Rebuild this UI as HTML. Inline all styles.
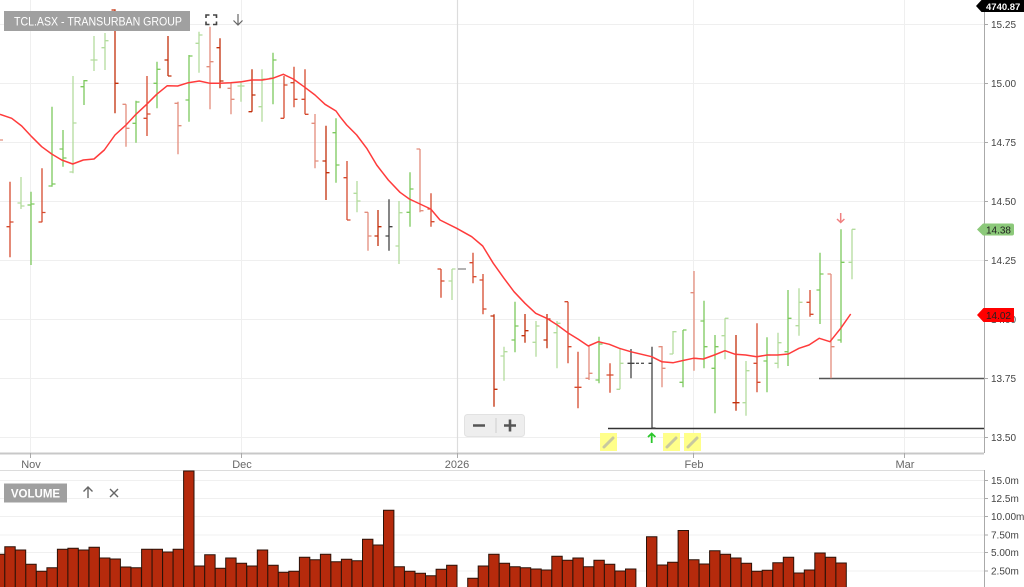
<!DOCTYPE html>
<html><head><meta charset="utf-8"><style>
html,body{margin:0;padding:0;background:#fff;}
svg{display:block;font-family:"Liberation Sans",Arial,sans-serif;}
</style></head><body>
<svg width="1024" height="587" viewBox="0 0 1024 587" xmlns="http://www.w3.org/2000/svg">
<rect x="0" y="0" width="1024" height="587" fill="#fff"/>
<!-- price grid -->
<g stroke="#efefef" stroke-width="1">
<path d="M0 24.5H984M0 83.5H984M0 142.5H984M0 201.5H984M0 260.5H984M0 319.5H984M0 378.5H984M0 437.5H984"/>
<path d="M30.5 0V453M241.5 0V453M693.5 0V453M904.5 0V453"/>
</g>
<path d="M457.5 0V453" stroke="#dcdcdc" stroke-width="1.2"/>
<!-- axes -->
<path d="M0 453.5H984" stroke="#c8c8c8" stroke-width="2"/>
<path d="M984.5 0V453M984.5 470V587" stroke="#aaa" stroke-width="1"/>
<g stroke="#aaa" stroke-width="1"><path d="M984 24.5H988M984 83.5H988M984 142.5H988M984 201.5H988M984 260.5H988M984 319.5H988M984 378.5H988M984 437.5H988"/>
<path d="M30.5 453V458M241.5 453V458M457.5 453V458M693.5 453V458M904.5 453V458"/></g>
<g font-size="10" fill="#444">
<text x="991" y="28">15.25</text><text x="991" y="87">15.00</text><text x="991" y="146">14.75</text>
<text x="991" y="205">14.50</text><text x="991" y="264">14.25</text><text x="991" y="323">14.00</text>
<text x="991" y="382">13.75</text><text x="991" y="441">13.50</text>
</g>
<g font-size="11" fill="#666" text-anchor="middle">
<text x="31" y="468">Nov</text><text x="242" y="468">Dec</text><text x="457" y="468">2026</text>
<text x="694" y="468">Feb</text><text x="905" y="468">Mar</text>
</g>
<!-- support lines -->
<path d="M608 428.5H984" stroke="#333" stroke-width="1.5"/>
<path d="M819 378.5H984" stroke="#555" stroke-width="1.5"/>
<!-- OHLC bars -->
<g fill="none" stroke-width="1.3">
<path stroke="#7dc95e" d="M31 191.7V265M27.5 205H31M31 204H34.5M52 106.7V186.7M48.5 186H52M52 184H55.5M63 130V166.7M59.5 149H63M63 158H66.5M84 80V105M80.5 86.7H84M84 80.7H87.5M136 100.7V142.7M132.5 123.3H136M136 102H139.5M157 61.7V108.3M153.5 83.3H157M157 69.3H160.5M189 55V121.7M185.5 100H189M189 56H192.5M273 52.7V104.3M269.5 78.3H273M273 60H276.5M336 118.3V182.7M332.5 132.7H336M336 165H339.5M410 172.3V226.7M406.5 212.3H410M410 189H413.5M515 301.7V352.3M511.5 340H515M515 326H518.5M599 336.7V383.3M595.5 380H599M599 344H602.5M683 330V387.3M679.5 382.3H683M683 330H686.5M704 300.7V368.3M700.5 321H704M704 346.7H707.5M715 335V413.3M711.5 368.3H715M715 346.7H718.5M767 337.3V392.3M763.5 361H767M767 355H770.5M788 290V366M784.5 351.7H788M788 318.3H791.5M820 252.7V324M816.5 290H820M820 274H823.5M841 229.3V342.7M837.5 340H841M841 262.3H844.5"/>
<path stroke="#b3dc9d" d="M21 177V209M17.5 203H21M21 206H24.5M73 76V173.3M69.5 172H73M73 123H76.5M94 36V71M90.5 60H94M94 60H97.5M105 33V70M101.5 47.7H105M105 40.7H108.5M199 31.7V72.7M195.5 43.3H199M199 35H202.5M241 81.7V101.7M237.5 86H241M241 86H244.5M262 69.3V121.7M258.5 106.7H262M262 79H265.5M357 181V212.3M353.5 193.3H357M357 201H360.5M399 201V264M395.5 246H399M399 212.7H402.5M452 269V300M448.5 281H452M452 269H455.5M504 346.7V380.7M500.5 356H504M504 351.7H507.5M536 321V356.7M532.5 342.3H536M536 326H539.5M557 321V368.3M553.5 332.7H557M557 323.3H560.5M620 349V389.3M616.5 389.3H620M620 363.3H623.5M673 331V354M669.5 354H673M673 331.7H676.5M725 318.3V359.3M721.5 335.7H725M725 318.3H728.5M746 361V415.7M742.5 402.7H746M746 370.7H749.5M778 332.7V368.3M774.5 363.3H778M778 342.7H781.5M799 288.3V335.7M795.5 325.7H799M799 302.3H802.5M852 229.3V279.3M848.5 262.3H852M852 229.3H855.5"/>
<path stroke="#d64a2e" d="M10 181.7V257.3M6.5 226.7H10M10 222H13.5M42 168.3V222.3M38.5 222H42M42 212.5H45.5M147 76V136M143.5 118.3H147M147 114H150.5M284 76V118.3M280.5 118.3H284M284 85H287.5M294 66.7V107.3M290.5 82.7H294M294 99.3H297.5M305 69.3V114.3M301.5 99.3H305M305 114.3H308.5M347 161V220M343.5 177.7H347M347 220H350.5M431 193.3V226.7M427.5 209H431M431 221.7H434.5M441 269V297.7M437.5 269H441M441 281H444.5M473 252.7V283.3M469.5 262.7H473M473 276.7H476.5M483 274V314.3M479.5 280H483M483 309H486.5M568 301.7V363.3M564.5 301.7H568M568 346.7H571.5M578 351.7V408.3M574.5 387.3H578M578 387.3H581.5M610 363.3V392.7M606.5 375H610M610 375H613.5M757 323.3V392.3M753.5 363.3H757M757 382.3H760.5M810 290V316.7M806.5 302.3H810M810 314.3H813.5"/>
<path stroke="#e38d7c" d="M0 140H3M126 104.3V146.7M122.5 104.3H126M126 128.3H129.5M178 101.7V154.3M174.5 103.3H178M178 125.7H181.5M210 26.7V109.3M206.5 66.7H210M210 61.7H213.5M231 83.3V114.3M227.5 88.3H231M231 99.3H234.5M315 114V168.3M311.5 123.3H315M315 161H318.5M368 212.3V250.7M364.5 212.3H368M368 236H371.5M420 149V212.3M416.5 149H420M420 210.7H423.5M589 345V380M585.5 378.3H589M589 373.3H592.5M662 346V387.3M658.5 346.7H662M662 368.3H665.5M694 271V370.7M690.5 292.7H694M694 358.3H697.5M831 274V378.3M827.5 274H831M831 346.7H834.5"/>
<path stroke="#c2300c" d="M115 9.3V113.3M111.5 10H115M115 83.3H118.5M168 36V76M164.5 60H168M168 76H171.5M220 38.3V88.3M216.5 47.7H220M220 81H223.5M252 69.3V111.7M248.5 111.7H252M252 95H255.5M326 125.7V200M322.5 161H326M326 172.7H329.5M378 210V246M374.5 236H378M378 226.7H381.5M494 314.3V406.7M490.5 316H494M494 389.3H497.5M525 314V342.7M521.5 335.7H525M525 330.7H528.5M547 314V348.3M543.5 340H547M547 319H550.5M736 335V410.7M732.5 402.7H736M736 402.7H739.5"/>
<path stroke="#444" d="M389 199.3V250.7M385.5 236H389M389 226.7H392.5M631 349V378.3M627.5 363.3H631M631 363.3H634.5M652 346.7V428.3M648.5 363.3H652M652 428H655.5"/>
<path stroke="#888" d="M458 269H466"/>
<path stroke="#555" stroke-dasharray="3 2" d="M636 363.3H646"/>
</g>
<!-- moving average -->
<polyline fill="none" stroke="#ff3b3b" stroke-width="1.5" stroke-linejoin="round" points="0,114.3 11.7,118.3 21.7,126 31.7,136.7 41.7,146.7 51.7,154 61.7,160 72.7,164 83.3,160 94,159 104.3,150 115,135 126,125 136,114.3 146.7,104.3 156.7,94.3 167.3,85.7 177.7,86 188.3,82.7 199.3,81 210,83.3 220,83.3 230.7,82.7 241.7,81.7 251.7,80 262.3,80 272.7,78.3 283.3,74.3 293.3,79 304,86.7 315,95 325,104.3 336,111 340,116.7 346.7,125 356.7,135 366.7,148.3 376.7,165 388.3,180 400,192.3 409.3,199 420,204 430.7,209 440,220 456.7,228.3 471.7,236.7 482.7,246 493.3,263.3 504,278.3 514,291.7 525,303.3 535.7,313.3 546.7,318.3 557.3,325 567.7,332.7 578.3,339.3 588.3,346 598.3,341.7 609.3,344.3 619.3,348.3 630.7,351.7 651.7,356.7 661.7,361.7 673.3,362.7 683,360.5 693.3,358.3 703.3,359 714.3,355 725,350.7 735.3,354.3 745.7,355 756.7,356.7 767.3,355 777.7,355 788.3,354 799,348.3 809,345 819.3,338.3 830,341.7 840.7,328.3 850.7,314"/>
<!-- markers -->
<g stroke="#f08080" stroke-width="1.5" fill="none"><path d="M840.7 213V222.5M837 219L840.7 222.5L844.4 219"/></g>
<g stroke="#2bc72b" stroke-width="1.8" fill="none"><path d="M651.7 443V433.5M648 437L651.7 433.5L655.4 437"/></g>
<!-- pencil boxes -->
<g>
<rect x="600" y="433" width="17" height="18" fill="#ffff8a"/>
<rect x="663" y="433" width="17" height="18" fill="#ffff8a"/>
<rect x="684" y="433" width="17" height="18" fill="#ffff8a"/>
<g stroke="#c8c8a0" stroke-width="3" stroke-linecap="round">
<path d="M604 447L613 438M667 447L676 438M688 447L697 438"/>
</g>
</g>
<!-- zoom control -->
<rect x="464.5" y="414.5" width="60" height="22" rx="3" fill="#eeeeee" stroke="#e2e2e2"/>
<path d="M496 418V433" stroke="#cfcfcf" stroke-width="1"/>
<path d="M473 425.5H485M504 425.5H516M510 419.5V431.5" stroke="#555" stroke-width="2.6"/>
<!-- title -->
<rect x="4" y="11" width="186" height="20" fill="#a0a0a0"/>
<text x="14" y="25.5" font-size="12" fill="#fff" textLength="168" lengthAdjust="spacingAndGlyphs">TCL.ASX - TRANSURBAN GROUP</text>
<g stroke="#444" stroke-width="1.6" fill="none">
<path d="M206 18V15H209.5M213 15H216.5V18M216.5 21.5V24.5H213M209.5 24.5H206V21.5"/>
</g>
<g stroke="#666" stroke-width="1.2" fill="none"><path d="M238 14V25M233.5 20.5L238 25L242.5 20.5"/></g>
<!-- right labels -->
<path d="M976 6L981.5 0H1024V12H981.5Z" fill="#000"/>
<text x="986" y="9.8" font-size="9.5" font-weight="bold" fill="#fff">4740.87</text>
<path d="M977 229.5L983 223.5H1012Q1014 223.5 1014 225.5V233.5Q1014 235.5 1012 235.5H983Z" fill="#8cc97a"/>
<text x="1011" y="233.5" font-size="10" fill="#222" text-anchor="end">14.38</text>
<path d="M977 315L983.5 308H1014V322H983.5Z" fill="#ff0000"/>
<text x="1011" y="319" font-size="10" fill="#222" text-anchor="end">14.02</text>
<!-- volume panel -->
<path d="M0 470.5H984" stroke="#dcdcdc" stroke-width="1"/>
<g stroke="#f0f0f0" stroke-width="1"><path d="M0 480.5H984M0 498.5H984M0 516.5H984M0 535H984M0 552.5H984M0 571H984"/></g>
<g stroke="#aaa"><path d="M984 480.5H988M984 498.5H988M984 516.5H988M984 535H988M984 552.5H988M984 571H988"/></g>
<g font-size="10" fill="#444">
<text x="991" y="484">15.0m</text><text x="991" y="502">12.5m</text><text x="991" y="520">10.00m</text>
<text x="991" y="538.5">7.50m</text><text x="991" y="556">5.00m</text><text x="991" y="574.5">2.50m</text>
</g>
<g fill="#b52a0c" stroke="#2a1208" stroke-width="1">
<path d="M-5.7 590V554.3H4.7V590ZM4.8 590V546.7H15.2V590ZM15.3 590V550H25.7V590ZM25.8 590V564.3H36.2V590ZM36.4 590V571.3H46.8V590ZM46.9 590V567.7H57.3V590ZM57.4 590V549.3H67.8V590ZM67.9 590V548.3H78.3V590ZM78.4 590V550H88.8V590ZM89 590V547.3H99.4V590ZM99.5 590V558H109.9V590ZM110 590V559H120.4V590ZM120.5 590V567H130.9V590ZM131 590V567.7H141.4V590ZM141.6 590V549.3H152V590ZM152.1 590V549.3H162.5V590ZM162.6 590V552H173V590ZM173.1 590V549.3H183.5V590ZM183.6 590V471H194V590ZM194.2 590V566H204.6V590ZM204.7 590V554.7H215.1V590ZM215.2 590V568.3H225.6V590ZM225.7 590V558H236.1V590ZM236.2 590V563.3H246.6V590ZM246.8 590V566H257.2V590ZM257.3 590V550H267.7V590ZM267.8 590V565.3H278.2V590ZM278.3 590V572.3H288.7V590ZM288.8 590V571.3H299.2V590ZM299.4 590V557.3H309.8V590ZM309.9 590V559.7H320.3V590ZM320.4 590V554.3H330.8V590ZM330.9 590V561.7H341.3V590ZM341.4 590V559.3H351.8V590ZM352 590V560.7H362.4V590ZM362.5 590V539.3H372.9V590ZM373 590V545H383.4V590ZM383.5 590V510.3H393.9V590ZM394 590V566.7H404.4V590ZM404.6 590V571.3H415V590ZM415.1 590V573.3H425.5V590ZM425.6 590V575.7H436V590ZM436.1 590V569.3H446.5V590ZM446.6 590V565.3H457V590ZM467.7 590V578.3H478.1V590ZM478.2 590V566H488.6V590ZM488.7 590V554.3H499.1V590ZM499.2 590V563.3H509.6V590ZM509.8 590V566.7H520.2V590ZM520.3 590V567.7H530.7V590ZM530.8 590V569H541.2V590ZM541.3 590V570H551.7V590ZM551.8 590V556.3H562.2V590ZM562.4 590V560.3H572.8V590ZM572.9 590V558H583.3V590ZM583.4 590V566.7H593.8V590ZM593.9 590V560.3H604.3V590ZM604.4 590V564.3H614.8V590ZM615 590V571H625.4V590ZM625.5 590V569H635.9V590ZM646.5 590V536.7H656.9V590ZM657 590V565H667.4V590ZM667.6 590V562.3H678V590ZM678.1 590V530.5H688.5V590ZM688.6 590V559.7H699V590ZM699.1 590V564H709.5V590ZM709.6 590V550.7H720V590ZM720.2 590V554.3H730.6V590ZM730.7 590V558H741.1V590ZM741.2 590V563.3H751.6V590ZM751.7 590V571.3H762.1V590ZM762.2 590V570.3H772.6V590ZM772.8 590V562.7H783.2V590ZM783.3 590V557.3H793.7V590ZM793.8 590V573H804.2V590ZM804.3 590V570H814.7V590ZM814.8 590V553H825.2V590ZM825.4 590V557.3H835.8V590ZM835.9 590V563H846.3V590Z"/>
</g>
<!-- volume label -->
<rect x="4" y="483.5" width="63" height="19" fill="#a0a0a0"/>
<text x="35.5" y="497.5" font-size="11.5" font-weight="bold" fill="#fff" text-anchor="middle">VOLUME</text>
<g stroke="#666" stroke-width="1.4" fill="none">
<path d="M88 498V487M83.5 491.5L88 487L92.5 491.5"/>
<path d="M110 489L118 497M118 489L110 497"/>
</g>
</svg>
</body></html>
